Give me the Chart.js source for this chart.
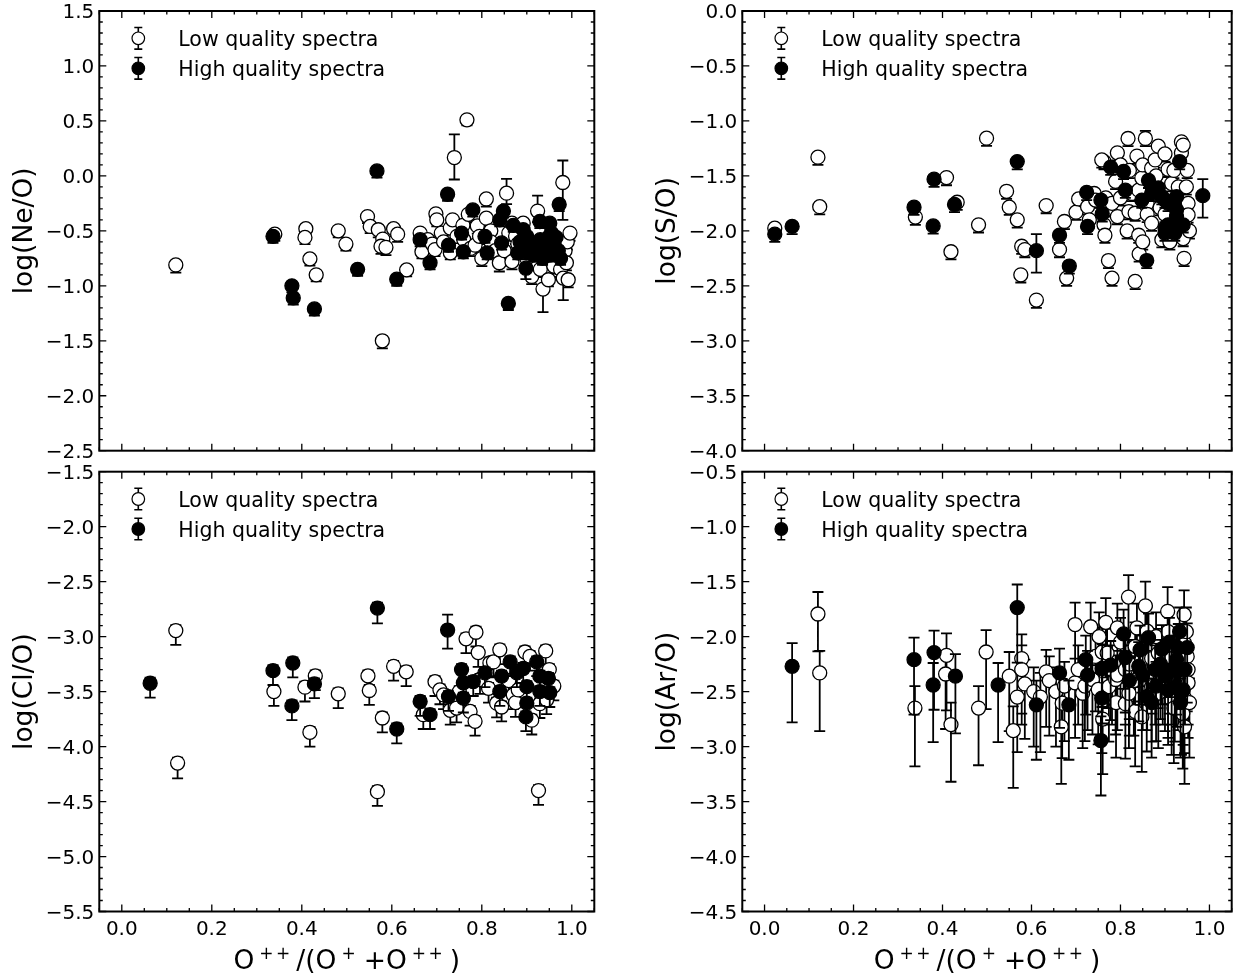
<!DOCTYPE html>
<html>
<head>
<meta charset="utf-8">
<script src="https://cdn.jsdelivr.net/npm/chart.js@4.4.0/dist/chart.umd.min.js"></script>
<style>
  html, body { margin: 0; padding: 0; background: #fff; }
  #wrap { position: relative; width: 1240px; height: 973px; overflow: hidden; }
  canvas { position: absolute; }
</style>
</head>
<body>
<div id="wrap">
  <canvas id="cNe" width="620" height="461" style="left:0;top:0"></canvas>
  <canvas id="cS" width="597" height="461" style="left:643px;top:0"></canvas>
  <canvas id="cCl" width="620" height="512" style="left:0;top:461px"></canvas>
  <canvas id="cAr" width="597" height="512" style="left:643px;top:461px"></canvas>
</div>
<script>
// each point: [O++/(O+ + O++), log ratio, lower error, upper error]
const xTicks = [0.0, 0.2, 0.4, 0.6, 0.8, 1.0];
const neTicks = [-2.5, -2.0, -1.5, -1.0, -0.5, 0.0, 0.5, 1.0, 1.5];
const sTicks = [-4.0, -3.5, -3.0, -2.5, -2.0, -1.5, -1.0, -0.5, 0.0];
const clTicks = [-5.5, -5.0, -4.5, -4.0, -3.5, -3.0, -2.5, -2.0, -1.5];
const arTicks = [-4.5, -4.0, -3.5, -3.0, -2.5, -2.0, -1.5, -1.0, -0.5];
const seriesNames = ['Low quality spectra', 'High quality spectra'];

const neLow = [
  [0.120,-0.81,0.07,0.03],[0.340,-0.53,0.06,0.03],[0.409,-0.48,0.06,0.03],[0.407,-0.56,0.06,0.03],
  [0.418,-0.755,0.06,0.03],[0.432,-0.90,0.06,0.03],[0.481,-0.50,0.06,0.03],[0.498,-0.62,0.06,0.03],
  [0.546,-0.37,0.06,0.03],[0.552,-0.46,0.06,0.03],[0.570,-0.49,0.07,0.03],[0.580,-0.575,0.07,0.03],
  [0.576,-0.64,0.07,0.03],[0.587,-0.65,0.07,0.03],[0.604,-0.48,0.07,0.03],[0.613,-0.53,0.07,0.03],
  [0.633,-0.855,0.06,0.03],[0.579,-1.50,0.07,0.03],[0.663,-0.52,0.06,0.03],[0.667,-0.69,0.06,0.03],
  [0.680,-0.58,0.06,0.03],[0.690,-0.62,0.06,0.03],[0.696,-0.67,0.06,0.03],[0.698,-0.345,0.06,0.03],
  [0.700,-0.40,0.06,0.03],[0.710,-0.52,0.06,0.03],[0.715,-0.60,0.06,0.03],[0.730,-0.475,0.06,0.03],
  [0.730,-0.70,0.06,0.03],[0.735,-0.40,0.06,0.03],[0.745,-0.55,0.06,0.03],
  [0.739,0.167,0.20,0.21],[0.767,0.51,0.05,0.03],[0.758,-0.45,0.07,0.03],[0.760,-0.58,0.07,0.03],
  [0.770,-0.35,0.07,0.03],[0.775,-0.66,0.07,0.03],[0.790,-0.455,0.07,0.03],[0.785,-0.63,0.07,0.03],
  [0.795,-0.55,0.07,0.03],[0.800,-0.75,0.07,0.03],
  [0.810,-0.21,0.07,0.03],[0.810,-0.385,0.07,0.03],[0.820,-0.50,0.07,0.03],[0.820,-0.60,0.07,0.03],
  [0.830,-0.68,0.07,0.03],[0.839,-0.79,0.08,0.03],[0.850,-0.68,0.07,0.03],[0.855,-0.157,0.10,0.13],
  [0.860,-0.52,0.07,0.03],[0.867,-0.78,0.07,0.03],
  [0.867,-0.43,0.07,0.03],[0.875,-0.55,0.07,0.03],[0.880,-0.62,0.07,0.03],[0.892,-0.43,0.07,0.03],
  [0.900,-0.75,0.07,0.03],[0.911,-0.915,0.07,0.03],[0.924,-0.32,0.10,0.14],[0.930,-0.85,0.07,0.03],
  [0.936,-1.03,0.21,0.20],[0.945,-0.70,0.07,0.03],[0.948,-0.945,0.06,0.03],[0.950,-0.55,0.07,0.03],
  [0.960,-0.82,0.07,0.03],[0.970,-0.62,0.07,0.03],[0.975,-0.85,0.07,0.03],[0.980,-0.06,0.34,0.20],
  [0.981,-0.93,0.20,0.03],[0.985,-0.68,0.07,0.03],[0.988,-0.79,0.07,0.03],[0.990,-0.60,0.07,0.03],
  [0.992,-0.945,0.07,0.03],[0.996,-0.52,0.07,0.03]
];
const neHigh = [
  [0.336,-0.55,0.06,0.03],[0.378,-1.00,0.06,0.03],[0.381,-1.11,0.06,0.03],[0.428,-1.21,0.06,0.03],
  [0.524,-0.85,0.06,0.03],[0.567,0.045,0.06,0.03],[0.611,-0.94,0.06,0.03],[0.663,-0.58,0.06,0.03],
  [0.685,-0.79,0.06,0.03],[0.724,-0.167,0.06,0.03],[0.726,-0.63,0.06,0.03],[0.755,-0.52,0.06,0.03],
  [0.759,-0.69,0.06,0.03],[0.780,-0.31,0.06,0.03],[0.807,-0.55,0.06,0.03],[0.812,-0.70,0.06,0.03],
  [0.840,-0.40,0.06,0.03],[0.844,-0.61,0.06,0.03],[0.848,-0.32,0.06,0.03],[0.859,-1.16,0.06,0.03],
  [0.870,-0.45,0.06,0.03],[0.880,-0.70,0.06,0.03],[0.885,-0.60,0.06,0.03],[0.892,-0.49,0.06,0.03],
  [0.898,-0.84,0.10,0.03],[0.900,-0.55,0.06,0.03],[0.900,-0.70,0.06,0.03],[0.910,-0.62,0.06,0.03],
  [0.915,-0.72,0.06,0.03],[0.920,-0.68,0.06,0.03],[0.929,-0.415,0.06,0.03],[0.930,-0.58,0.06,0.03],
  [0.935,-0.75,0.06,0.03],[0.940,-0.65,0.06,0.03],[0.945,-0.58,0.06,0.03],[0.950,-0.72,0.06,0.03],
  [0.951,-0.43,0.06,0.03],[0.955,-0.52,0.06,0.03],[0.960,-0.60,0.06,0.03],[0.965,-0.56,0.06,0.03],
  [0.970,-0.68,0.06,0.03],[0.972,-0.26,0.06,0.03],[0.975,-0.75,0.06,0.03]
];

const sLow = [
  [0.023,-1.976,0.06,0.03],[0.120,-1.33,0.07,0.03],[0.124,-1.78,0.07,0.03],[0.339,-1.875,0.07,0.03],
  [0.409,-1.515,0.07,0.03],[0.433,-1.74,0.07,0.03],[0.481,-1.945,0.07,0.03],[0.419,-2.19,0.07,0.03],
  [0.499,-1.157,0.07,0.03],[0.544,-1.64,0.07,0.03],[0.550,-1.785,0.07,0.03],[0.568,-1.90,0.07,0.03],
  [0.578,-2.14,0.07,0.03],[0.585,-2.17,0.07,0.03],[0.576,-2.40,0.07,0.03],[0.611,-2.63,0.07,0.03],
  [0.633,-1.77,0.07,0.03],[0.663,-2.17,0.07,0.03],[0.674,-1.915,0.07,0.03],[0.679,-2.43,0.07,0.03],
  [0.700,-1.83,0.07,0.03],[0.706,-1.71,0.07,0.03],[0.726,-1.78,0.07,0.03],[0.730,-1.90,0.07,0.03],
  [0.741,-1.66,0.07,0.03],[0.744,-1.72,0.07,0.03],[0.763,-1.945,0.07,0.03],[0.765,-2.04,0.07,0.03],
  [0.773,-2.27,0.07,0.03],[0.781,-2.43,0.07,0.03],[0.763,-1.37,0.07,0.03],[0.758,-1.355,0.07,0.03],
  [0.767,-1.70,0.07,0.03],[0.775,-1.80,0.07,0.03],[0.781,-1.75,0.07,0.03],[0.789,-1.55,0.07,0.03],
  [0.793,-1.29,0.07,0.03],[0.793,-1.87,0.07,0.03],[0.800,-1.40,0.07,0.03],[0.800,-1.70,0.07,0.03],
  [0.815,-2.00,0.07,0.03],[0.817,-1.16,0.07,0.03],[0.819,-1.825,0.07,0.03],[0.820,-1.45,0.07,0.03],
  [0.826,-1.66,0.07,0.03],[0.833,-1.84,0.07,0.03],[0.833,-2.46,0.07,0.03],[0.837,-1.32,0.07,0.03],
  [0.841,-1.63,0.07,0.03],[0.841,-2.04,0.07,0.03],[0.842,-2.21,0.07,0.03],[0.848,-1.52,0.07,0.03],
  [0.850,-1.40,0.07,0.03],[0.850,-2.10,0.07,0.03],[0.856,-1.16,0.07,0.07],[0.860,-1.75,0.07,0.03],
  [0.860,-1.85,0.07,0.03],[0.870,-1.43,0.07,0.03],[0.870,-1.93,0.07,0.03],[0.878,-1.355,0.07,0.03],
  [0.880,-1.50,0.07,0.03],[0.885,-1.23,0.07,0.03],[0.889,-1.79,0.07,0.03],[0.893,-2.08,0.07,0.03],
  [0.900,-1.30,0.07,0.03],[0.900,-1.85,0.07,0.03],[0.907,-1.44,0.07,0.03],[0.911,-2.10,0.07,0.03],
  [0.915,-1.57,0.07,0.03],[0.920,-1.45,0.07,0.03],[0.930,-1.60,0.07,0.03],[0.937,-1.19,0.07,0.03],
  [0.937,-1.29,0.07,0.03],[0.941,-1.22,0.07,0.03],[0.941,-2.07,0.07,0.03],[0.943,-2.25,0.07,0.03],
  [0.945,-1.95,0.07,0.03],[0.948,-1.60,0.07,0.03],[0.950,-1.45,0.07,0.03],[0.952,-1.75,0.07,0.03],
  [0.952,-1.855,0.07,0.03],[0.955,-2.00,0.07,0.03]
];
const sHigh = [
  [0.023,-2.03,0.07,0.03],[0.062,-1.96,0.07,0.03],[0.336,-1.785,0.07,0.03],[0.381,-1.53,0.07,0.03],
  [0.379,-1.955,0.07,0.03],[0.427,-1.76,0.07,0.03],[0.568,-1.37,0.07,0.03],[0.611,-2.18,0.20,0.15],
  [0.663,-2.04,0.07,0.03],[0.685,-2.32,0.07,0.03],[0.724,-1.65,0.07,0.03],[0.726,-1.96,0.07,0.03],
  [0.756,-1.72,0.07,0.03],[0.759,-1.845,0.07,0.03],[0.778,-1.42,0.07,0.03],[0.807,-1.46,0.07,0.03],
  [0.811,-1.63,0.07,0.03],[0.848,-1.72,0.07,0.03],[0.859,-2.27,0.07,0.03],[0.863,-1.54,0.07,0.03],
  [0.870,-1.66,0.07,0.03],[0.885,-1.61,0.07,0.03],[0.893,-1.69,0.07,0.03],[0.900,-1.72,0.07,0.03],
  [0.900,-1.975,0.07,0.03],[0.900,-2.02,0.07,0.03],[0.907,-1.75,0.07,0.03],[0.907,-1.945,0.07,0.03],
  [0.915,-1.99,0.07,0.03],[0.922,-1.78,0.07,0.03],[0.922,-2.02,0.07,0.03],[0.926,-1.69,0.07,0.03],
  [0.926,-1.81,0.07,0.03],[0.926,-1.87,0.07,0.03],[0.930,-1.93,0.07,0.03],[0.933,-1.37,0.07,0.03],
  [0.941,-1.945,0.07,0.03],[0.985,-1.68,0.20,0.15]
];

const clLow = [
  [0.120,-2.945,0.13,0.05],[0.124,-4.15,0.14,0.05],[0.338,-3.50,0.13,0.05],[0.430,-3.357,0.13,0.05],
  [0.407,-3.46,0.13,0.05],[0.418,-3.87,0.13,0.05],[0.481,-3.52,0.13,0.05],[0.547,-3.357,0.13,0.05],
  [0.550,-3.49,0.13,0.05],[0.604,-3.27,0.13,0.05],[0.632,-3.32,0.13,0.05],[0.579,-3.74,0.13,0.05],
  [0.568,-4.41,0.13,0.05],[0.696,-3.41,0.13,0.05],[0.670,-3.71,0.13,0.05],[0.707,-3.485,0.13,0.05],
  [0.715,-3.53,0.13,0.05],[0.730,-3.67,0.13,0.05],[0.744,-3.65,0.13,0.05],[0.750,-3.50,0.13,0.05],
  [0.765,-3.02,0.13,0.05],[0.787,-2.96,0.13,0.05],[0.792,-3.145,0.13,0.05],[0.774,-3.68,0.13,0.05],
  [0.785,-3.77,0.13,0.05],[0.796,-3.39,0.13,0.05],[0.815,-3.47,0.13,0.05],[0.818,-3.24,0.13,0.05],
  [0.826,-3.23,0.13,0.05],[0.833,-3.605,0.13,0.05],[0.840,-3.12,0.13,0.05],[0.844,-3.64,0.13,0.05],
  [0.860,-3.40,0.13,0.05],[0.870,-3.53,0.13,0.05],[0.875,-3.60,0.13,0.05],[0.881,-3.485,0.13,0.05],
  [0.896,-3.14,0.13,0.05],[0.907,-3.18,0.13,0.05],[0.911,-3.76,0.13,0.05],[0.929,-3.61,0.13,0.05],
  [0.942,-3.13,0.13,0.05],[0.944,-3.575,0.13,0.05],[0.950,-3.30,0.13,0.05],[0.960,-3.45,0.13,0.05],
  [0.926,-4.40,0.13,0.05]
];
const clHigh = [
  [0.063,-3.424,0.13,0.05],[0.336,-3.31,0.13,0.05],[0.380,-3.24,0.13,0.05],[0.378,-3.63,0.13,0.05],
  [0.428,-3.43,0.13,0.05],[0.568,-2.74,0.14,0.05],[0.611,-3.84,0.13,0.05],[0.663,-3.59,0.13,0.05],
  [0.685,-3.71,0.13,0.05],[0.724,-2.94,0.17,0.14],[0.726,-3.545,0.13,0.05],[0.755,-3.30,0.13,0.05],
  [0.759,-3.42,0.13,0.05],[0.759,-3.56,0.13,0.05],[0.781,-3.41,0.13,0.05],[0.807,-3.33,0.13,0.05],
  [0.840,-3.50,0.13,0.05],[0.844,-3.36,0.13,0.05],[0.863,-3.23,0.13,0.05],[0.878,-3.33,0.13,0.05],
  [0.892,-3.29,0.13,0.05],[0.900,-3.455,0.13,0.05],[0.900,-3.605,0.13,0.05],[0.898,-3.73,0.13,0.05],
  [0.922,-3.23,0.13,0.05],[0.929,-3.36,0.13,0.05],[0.929,-3.50,0.13,0.05],[0.948,-3.38,0.13,0.05],
  [0.951,-3.51,0.13,0.05]
];

const arLow = [
  [0.120,-1.794,0.34,0.20],[0.124,-2.33,0.53,0.20],[0.338,-2.65,0.53,0.20],[0.409,-2.17,0.50,0.20],
  [0.407,-2.34,0.50,0.20],[0.419,-2.80,0.52,0.20],[0.498,-2.14,0.52,0.20],[0.481,-2.65,0.52,0.20],
  [0.550,-2.36,0.50,0.22],[0.559,-2.855,0.52,0.22],[0.568,-2.55,0.50,0.22],[0.578,-2.20,0.50,0.22],
  [0.578,-2.30,0.50,0.22],[0.585,-2.43,0.50,0.22],[0.605,-2.50,0.50,0.22],[0.620,-2.55,0.50,0.22],
  [0.633,-2.32,0.50,0.20],[0.640,-2.40,0.50,0.22],[0.655,-2.50,0.50,0.22],
  [0.667,-2.82,0.52,0.22],[0.669,-2.605,0.50,0.22],[0.674,-2.45,0.50,0.22],[0.698,-2.42,0.50,0.22],
  [0.698,-1.89,0.50,0.20],[0.705,-2.30,0.50,0.22],[0.715,-2.515,0.50,0.22],[0.720,-2.45,0.50,0.22],
  [0.733,-1.91,0.50,0.22],[0.737,-2.39,0.50,0.22],[0.744,-2.18,0.50,0.22],[0.750,-2.48,0.50,0.22],
  [0.752,-2.00,0.50,0.22],[0.759,-2.14,0.50,0.22],[0.760,-2.75,0.50,0.22],[0.767,-1.87,0.50,0.22],
  [0.770,-2.15,0.50,0.22],[0.774,-2.455,0.50,0.22],[0.781,-2.30,0.50,0.22],[0.789,-2.39,0.50,0.22],
  [0.790,-2.60,0.50,0.22],[0.793,-1.92,0.50,0.22],[0.793,-2.35,0.50,0.22],[0.800,-2.05,0.50,0.22],
  [0.811,-2.30,0.50,0.22],[0.811,-2.61,0.50,0.22],[0.818,-1.64,0.50,0.20],[0.819,-2.515,0.50,0.22],
  [0.820,-2.25,0.50,0.22],[0.830,-2.40,0.50,0.22],[0.833,-2.09,0.50,0.22],[0.833,-2.68,0.50,0.22],
  [0.837,-1.92,0.50,0.22],[0.848,-2.21,0.50,0.22],[0.848,-2.73,0.50,0.22],[0.856,-1.72,0.50,0.22],
  [0.860,-1.95,0.50,0.22],[0.860,-2.35,0.50,0.22],[0.870,-2.20,0.50,0.22],[0.870,-2.455,0.50,0.22],
  [0.880,-2.00,0.50,0.22],[0.885,-2.15,0.50,0.22],[0.885,-2.515,0.50,0.22],[0.895,-2.30,0.50,0.22],
  [0.906,-1.77,0.50,0.22],[0.907,-1.955,0.50,0.22],[0.907,-2.42,0.50,0.22],[0.910,-2.20,0.50,0.22],
  [0.915,-2.575,0.50,0.22],[0.920,-2.65,0.50,0.22],[0.930,-2.35,0.50,0.22],[0.935,-2.15,0.50,0.22],
  [0.937,-2.575,0.50,0.22],[0.940,-2.70,0.50,0.22],[0.943,-1.80,0.50,0.22],
  [0.944,-2.06,0.50,0.22],[0.944,-2.56,0.50,0.22],[0.944,-2.82,0.52,0.22],[0.948,-1.955,0.50,0.22],
  [0.950,-2.18,0.50,0.22],[0.952,-2.30,0.50,0.22],[0.952,-2.42,0.50,0.22],[0.955,-2.60,0.50,0.22]
];
const arHigh = [
  [0.062,-2.27,0.51,0.21],[0.336,-2.21,0.50,0.20],[0.381,-2.145,0.52,0.20],[0.379,-2.44,0.52,0.20],
  [0.429,-2.36,0.52,0.20],[0.525,-2.44,0.52,0.20],[0.568,-1.736,0.50,0.21],[0.611,-2.62,0.50,0.22],
  [0.663,-2.33,0.50,0.22],[0.684,-2.62,0.50,0.22],[0.722,-2.21,0.50,0.22],[0.726,-2.35,0.50,0.22],
  [0.756,-2.945,0.50,0.22],[0.758,-2.56,0.50,0.22],[0.759,-2.29,0.50,0.22],[0.778,-2.26,0.50,0.22],
  [0.807,-1.975,0.50,0.22],[0.811,-2.19,0.50,0.22],[0.820,-2.40,0.50,0.22],[0.841,-2.27,0.50,0.22],
  [0.844,-2.12,0.50,0.22],[0.850,-2.35,0.50,0.22],[0.859,-2.545,0.50,0.22],[0.863,-2.01,0.50,0.22],
  [0.870,-2.60,0.50,0.22],[0.878,-2.30,0.50,0.22],[0.880,-2.45,0.50,0.22],[0.890,-2.25,0.50,0.22],
  [0.893,-2.115,0.50,0.22],[0.900,-2.36,0.50,0.22],[0.907,-2.485,0.50,0.22],[0.910,-2.05,0.50,0.22],
  [0.915,-2.30,0.50,0.22],[0.922,-2.455,0.50,0.22],[0.926,-2.21,0.50,0.22],[0.926,-2.32,0.50,0.22],
  [0.930,-2.105,0.50,0.22],[0.933,-1.955,0.50,0.22],[0.935,-2.60,0.50,0.22],[0.941,-2.485,0.50,0.22],
  [0.945,-2.30,0.50,0.22],[0.950,-2.10,0.50,0.22]
];

const FONT = 'DejaVu Sans';
const fmt = v => v.toFixed(1).replace('-', '\u2212');

// error bars drawn under each dataset's markers
const errorBars = {
  id: 'errorBars',
  beforeDatasetDraw(chart, args) {
    const ds = chart.data.datasets[args.index];
    const xs = chart.scales.x, ys = chart.scales.y, a = chart.chartArea, ctx = chart.ctx;
    ctx.save();
    ctx.beginPath();
    ctx.rect(a.left, a.top, a.right - a.left, a.bottom - a.top);
    ctx.clip();
    ctx.strokeStyle = '#000';
    ctx.lineWidth = 1.8;
    ctx.beginPath();
    ds.data.forEach(p => {
      const px = xs.getPixelForValue(p.x);
      const y1 = ys.getPixelForValue(p.y + p.eHi);
      const y2 = ys.getPixelForValue(p.y - p.eLo);
      ctx.moveTo(px, y1); ctx.lineTo(px, y2);
      ctx.moveTo(px - 5.5, y1); ctx.lineTo(px + 5.5, y1);
      ctx.moveTo(px - 5.5, y2); ctx.lineTo(px + 5.5, y2);
    });
    ctx.stroke();
    ctx.restore();
  }
};

// frame + inward ticks on all four sides
const frameTicks = {
  id: 'frameTicks',
  afterDatasetsDraw(chart) {
    const {ctx, chartArea: a} = chart;
    const xs = chart.scales.x, ys = chart.scales.y;
    ctx.save();
    ctx.strokeStyle = '#000';
    ctx.lineWidth = 1.3;
    ctx.beginPath();
    for (let k = Math.round(xs.min * 20); k <= Math.round(xs.max * 20); k++) {
      const px = xs.getPixelForValue(k / 20);
      const len = k % 4 === 0 ? 7 : 3.5;
      ctx.moveTo(px, a.bottom); ctx.lineTo(px, a.bottom - len);
      ctx.moveTo(px, a.top); ctx.lineTo(px, a.top + len);
    }
    for (let k = Math.round(ys.min * 10); k <= Math.round(ys.max * 10); k++) {
      const py = ys.getPixelForValue(k / 10);
      const len = k % 5 === 0 ? 7 : 3.5;
      ctx.moveTo(a.left, py); ctx.lineTo(a.left + len, py);
      ctx.moveTo(a.right, py); ctx.lineTo(a.right - len, py);
    }
    ctx.stroke();
    ctx.lineWidth = 2;
    ctx.strokeRect(a.left, a.top, a.right - a.left, a.bottom - a.top);
    ctx.restore();
  }
};

// legend with errorbar glyphs, top-left inside the axes
const errLegend = {
  id: 'errLegend',
  afterDraw(chart) {
    const {ctx, chartArea: a} = chart;
    ctx.save();
    chart.data.datasets.forEach((ds, i) => {
      const cx = a.left + 39, cy = a.top + 27.3 + i * 30;
      ctx.strokeStyle = '#000';
      ctx.lineWidth = 1.6;
      ctx.beginPath();
      ctx.moveTo(cx, cy - 10.8); ctx.lineTo(cx, cy + 10.8);
      ctx.moveTo(cx - 4, cy - 10.8); ctx.lineTo(cx + 4, cy - 10.8);
      ctx.moveTo(cx - 4, cy + 10.8); ctx.lineTo(cx + 4, cy + 10.8);
      ctx.stroke();
      ctx.beginPath();
      ctx.arc(cx, cy, 6.3, 0, Math.PI * 2);
      ctx.fillStyle = ds.pointBackgroundColor;
      ctx.fill();
      ctx.lineWidth = 1.2;
      ctx.stroke();
      ctx.fillStyle = '#000';
      ctx.font = '20.5px "' + FONT + '"';
      ctx.textAlign = 'left';
      ctx.textBaseline = 'alphabetic';
      ctx.fillText(ds.label, a.left + 79, cy + 8);
    });
    ctx.restore();
  }
};

// x axis title O++/(O+ + O++) with raised superscripts
const xTitle = {
  id: 'xTitle',
  afterDraw(chart, args, opts) {
    if (!opts.show) return;
    const {ctx, chartArea: a} = chart;
    const big = '26.5px "' + FONT + '"', small = '17px "' + FONT + '"';
    const parts = [['O', 0, 0], ['+', 1, 5], ['+', 1, 2.5], ['/(O', 0, 6], ['+', 1, 5],
                   ['+', 0, 8], ['O', 0, 0], ['+', 1, 5], ['+', 1, 2.5], [')', 0, 7]];
    ctx.save();
    let w = 0;
    parts.forEach(p => { ctx.font = p[1] ? small : big; w += p[2] + ctx.measureText(p[0]).width; });
    let x = (a.left + a.right) / 2 - w / 2;
    const base = a.bottom + 57;
    ctx.fillStyle = '#000';
    ctx.textBaseline = 'alphabetic';
    ctx.textAlign = 'left';
    parts.forEach(p => {
      ctx.font = p[1] ? small : big;
      x += p[2];
      ctx.fillText(p[0], x, p[1] ? base - 9.5 : base);
      x += ctx.measureText(p[0]).width;
    });
    ctx.restore();
  }
};

function toPoints(arr) {
  return arr.map(p => ({x: p[0], y: p[1], eLo: p[2], eHi: p[3]}));
}

function makePanel(id, low, high, yTicks, yLabel, showX, plotRight, plotTop, plotBottom) {
  const cv = document.getElementById(id);
  const W = cv.width, H = cv.height;
  const base = {pointRadius: 7, pointHoverRadius: 7, pointBorderColor: '#000', pointBorderWidth: 1.3, showLine: false};
  new Chart(cv.getContext('2d'), {
    type: 'scatter',
    data: {
      datasets: [
        Object.assign({label: seriesNames[0], data: toPoints(low), pointBackgroundColor: '#fff', order: 2}, base),
        Object.assign({label: seriesNames[1], data: toPoints(high), pointBackgroundColor: '#000', order: 1}, base)
      ]
    },
    options: {
      responsive: false,
      animation: false,
      events: [],
      layout: {padding: {left: 0, top: plotTop, right: W - plotRight, bottom: 0}},
      plugins: {legend: {display: false}, tooltip: {enabled: false}, xTitle: {show: showX}},
      scales: {
        x: {
          type: 'linear', min: -0.05, max: 1.05,
          afterBuildTicks: s => { s.ticks = xTicks.map(v => ({value: v})); },
          afterFit: s => { s.height = H - plotBottom; s.paddingLeft = 0; s.paddingRight = 0; },
          grid: {display: false, drawTicks: false},
          border: {display: false},
          ticks: {display: showX, autoSkip: false, maxRotation: 0, padding: 8, color: '#000',
                  font: {family: FONT, size: 20, lineHeight: 1}, callback: v => fmt(v)}
        },
        y: {
          type: 'linear', min: yTicks[0], max: yTicks[yTicks.length - 1],
          afterBuildTicks: s => { s.ticks = yTicks.map(v => ({value: v})); },
          afterFit: s => { s.width = 99.3; s.paddingTop = 0; s.paddingBottom = 0; },
          grid: {display: false, drawTicks: false},
          border: {display: false},
          ticks: {padding: 5, labelOffset: 2, color: '#000', font: {family: FONT, size: 20, lineHeight: 1}, callback: v => fmt(v)},
          title: {display: true, text: yLabel, color: '#000', font: {family: FONT, size: 26.5}, padding: {top: 9, bottom: 0}}
        }
      }
    },
    plugins: [errorBars, frameTicks, errLegend, xTitle]
  });
}

makePanel('cNe', neLow, neHigh, neTicks, 'log(Ne/O)', false, 594.3, 11, 450.7);
makePanel('cS', sLow, sHigh, sTicks, 'log(S/O)', false, 595, 11, 450.7);
makePanel('cCl', clLow, clHigh, clTicks, 'log(Cl/O)', true, 594.3, 10.7, 450.5);
makePanel('cAr', arLow, arHigh, arTicks, 'log(Ar/O)', true, 595, 10.7, 450.5);
</script>
</body>
</html>
